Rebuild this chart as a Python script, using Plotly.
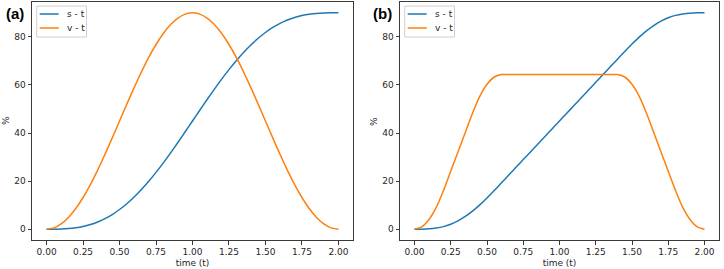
import plotly.graph_objects as go

W, H = 724, 269

# ---- data ----
t_a = [0.0, 0.05, 0.10, 0.15, 0.20, 0.25, 0.30, 0.35, 0.40, 0.45, 0.50,
       0.55, 0.60, 0.65, 0.70, 0.75, 0.80, 0.85, 0.90, 0.95, 1.00,
       1.05, 1.10, 1.15, 1.20, 1.25, 1.30, 1.35, 1.40, 1.45, 1.50,
       1.55, 1.60, 1.65, 1.70, 1.75, 1.80, 1.85, 1.90, 1.95, 2.00]
s_a = [0.0, 0.01, 0.07, 0.25, 0.58, 1.12, 1.91, 2.99, 4.38, 6.10, 8.18,
       10.60, 13.38, 16.49, 19.91, 23.62, 27.58, 31.75, 36.07, 40.51, 45.0,
       49.49, 53.93, 58.25, 62.42, 66.38, 70.09, 73.51, 76.62, 79.40, 81.82,
       83.90, 85.62, 87.01, 88.09, 88.88, 89.42, 89.75, 89.93, 89.99, 90.0]
v_a = [0.0, 0.55, 2.2, 4.90, 8.6, 13.18, 18.5, 24.57, 31.1, 37.96, 45.0,
       52.04, 58.9, 65.43, 71.5, 76.82, 81.4, 85.10, 87.8, 89.45, 90.0,
       89.45, 87.8, 85.10, 81.4, 76.82, 71.5, 65.43, 58.9, 52.04, 45.0,
       37.96, 31.1, 24.57, 18.5, 13.18, 8.6, 4.90, 2.2, 0.55, 0.0]

t_b = [0.0, 0.05, 0.10, 0.15, 0.20, 0.25, 0.30, 0.35, 0.40, 0.45, 0.50,
       0.55, 0.60, 0.65, 0.70, 0.75, 0.80, 0.85, 0.90, 0.95, 1.00,
       1.05, 1.10, 1.15, 1.20, 1.25, 1.30, 1.35, 1.40, 1.45, 1.50,
       1.55, 1.60, 1.65, 1.70, 1.75, 1.80, 1.85, 1.90, 1.95, 2.00]
s_b = [0.0, 0.02, 0.13, 0.45, 1.07, 2.08, 3.48, 5.29, 7.50, 10.10, 13.00,
       16.09, 19.29, 22.51, 25.72, 28.94, 32.15, 35.37, 38.58, 41.80, 45.01,
       48.23, 51.44, 54.66, 57.87, 61.09, 64.30, 67.52, 70.73, 73.91, 77.00,
       79.90, 82.50, 84.71, 86.52, 87.92, 88.93, 89.55, 89.87, 89.98, 90.0]
v_b = [0.0, 1.00, 4.02, 9.04, 16.08, 24.11, 32.15, 40.19, 48.23, 55.26, 60.28,
       63.30, 64.3, 64.3, 64.3, 64.3, 64.3, 64.3, 64.3, 64.3, 64.3,
       64.3, 64.3, 64.3, 64.3, 64.3, 64.3, 64.3, 64.3, 63.30, 60.28,
       55.26, 48.23, 40.19, 32.15, 24.11, 16.08, 9.04, 4.02, 1.00, 0.0]

series_names = ["s - t", "v - t"]
panel_labels = ["(a)", "(b)"]
x_ticks = [0.0, 0.25, 0.5, 0.75, 1.0, 1.25, 1.5, 1.75, 2.0]
y_ticks = [0, 20, 40, 60, 80]
x_title = "time (t)"
y_title = "%"

BLUE = "#1f77b4"
ORANGE = "#ff7f0e"
TXT = "#262626"
FONT = "DejaVu Sans"

def px(x):
    return x / W

def py(y):
    return 1 - y / H

fig = go.Figure()
fig.add_trace(go.Scatter(x=t_a, y=s_a, mode="lines", line=dict(color=BLUE, width=1.5, shape="spline", smoothing=0.6),
                         xaxis="x", yaxis="y", showlegend=False))
fig.add_trace(go.Scatter(x=t_a, y=v_a, mode="lines", line=dict(color=ORANGE, width=1.5, shape="spline", smoothing=0.6),
                         xaxis="x", yaxis="y", showlegend=False))
fig.add_trace(go.Scatter(x=t_b, y=s_b, mode="lines", line=dict(color=BLUE, width=1.5, shape="spline", smoothing=0.6),
                         xaxis="x2", yaxis="y2", showlegend=False))
fig.add_trace(go.Scatter(x=t_b, y=v_b, mode="lines", line=dict(color=ORANGE, width=1.5, shape="spline", smoothing=0.6),
                         xaxis="x2", yaxis="y2", showlegend=False))

panels = [(32, 353), (400, 719)]
top, bot = 2, 240

axis_common = dict(showline=True, mirror=True, linecolor="#3a3a3a", linewidth=1,
                   ticks="outside", ticklen=3.5, tickwidth=1, tickcolor="#3a3a3a",
                   showgrid=False, zeroline=False,
                   tickfont=dict(family=FONT, size=9, color=TXT))

layout = dict(width=W, height=H, margin=dict(l=0, r=0, t=0, b=0),
              plot_bgcolor="white", paper_bgcolor="white", showlegend=False)

for i, (l, r) in enumerate(panels):
    sx = "" if i == 0 else "2"
    layout["xaxis" + sx] = dict(axis_common, domain=[px(l), px(r)], range=[-0.1, 2.1],
                                anchor="y" + sx, tickvals=x_ticks, tickformat=".2f",
                                title=dict(text=x_title, font=dict(family=FONT, size=9, color=TXT), standoff=3))
    layout["yaxis" + sx] = dict(axis_common, domain=[py(bot), py(top)], range=[-4.5, 94.5],
                                anchor="x" + sx, tickvals=y_ticks)

fig.update_layout(**layout)

annotations = []
shapes = []
for i, (l, r) in enumerate(panels):
    # panel label
    annotations.append(dict(text="<b>%s</b>" % panel_labels[i], x=px(l - 17.5), y=py(13),
                            xref="paper", yref="paper", showarrow=False, xanchor="center", yanchor="middle",
                            font=dict(family="Liberation Sans, Arial", size=15, color="black")))
    # y title
    annotations.append(dict(text=y_title, x=px(l - 26), y=py((top + bot) / 2), textangle=-90,
                            xref="paper", yref="paper", showarrow=False, xanchor="center", yanchor="middle",
                            font=dict(family=FONT, size=9, color=TXT)))
    # legend box
    bx0, bx1, by0, by1 = l + 4.7, l + 54.5, 6, 37
    shapes.append(dict(type="rect", xref="paper", yref="paper", x0=px(bx0), x1=px(bx1), y0=py(by1), y1=py(by0),
                       line=dict(color="#d0d0d0", width=1), fillcolor="rgba(255,255,255,0.8)", layer="above"))
    for j, (name, col) in enumerate(zip(series_names, [BLUE, ORANGE])):
        yy = 14 + 14 * j
        shapes.append(dict(type="line", xref="paper", yref="paper", x0=px(bx0 + 3), x1=px(bx0 + 22),
                           y0=py(yy), y1=py(yy), line=dict(color=col, width=1.5), layer="above"))
        annotations.append(dict(text=name, x=px(bx0 + 28), y=py(yy), xref="paper", yref="paper",
                                showarrow=False, xanchor="left", yanchor="middle",
                                font=dict(family=FONT, size=9, color=TXT)))

fig.update_layout(annotations=annotations, shapes=shapes)
fig.write_html("out.html")
